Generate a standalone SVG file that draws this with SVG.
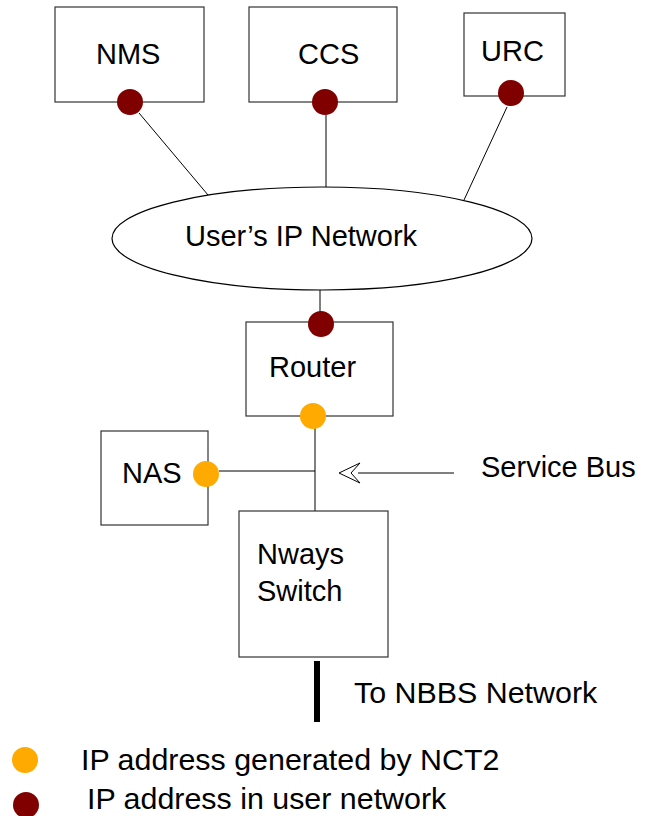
<svg xmlns="http://www.w3.org/2000/svg" width="646" height="816" viewBox="0 0 646 816">
<style>
.box{fill:#fff;stroke:#333;stroke-width:1.2}
.ln{stroke:#000;stroke-width:1;fill:none}
.t{font-family:"Liberation Sans",Arial,sans-serif;font-size:29px;fill:#000}
.tl{font-family:"Liberation Sans",Arial,sans-serif;font-size:30.4px;fill:#000}
.red{fill:#800000}
.org{fill:#FFAA00}
</style>
<rect width="646" height="816" fill="#fff"/>
<g id="connectors">
<line class="ln" x1="139" y1="113" x2="208" y2="195"/>
<line class="ln" x1="326" y1="115" x2="326" y2="187"/>
<line class="ln" x1="507" y1="107" x2="464" y2="200"/>
<line class="ln" x1="320" y1="290" x2="320" y2="312"/>
<line class="ln" x1="315" y1="428" x2="315" y2="511"/>
<line class="ln" x1="219" y1="471" x2="315" y2="471"/>
<line class="ln" x1="358" y1="473" x2="454" y2="473" stroke="#555"/>
<path d="M360,463 L339,473 L360,483 L351,473 Z" fill="#fff" stroke="#000" stroke-width="1"/>
<line x1="317" y1="661" x2="317" y2="722" stroke="#000" stroke-width="6"/>
</g>
<g id="nms">
<rect class="box" x="55" y="7" width="149" height="95"/>
<text class="t" x="96" y="64">NMS</text>
<circle class="red" cx="130" cy="102" r="13"/>
</g>
<g id="ccs">
<rect class="box" x="249" y="7" width="148" height="95"/>
<text class="t" x="298" y="64">CCS</text>
<circle class="red" cx="325" cy="102" r="13"/>
</g>
<g id="urc">
<rect class="box" x="464" y="13" width="101" height="83"/>
<text class="t" x="481" y="61">URC</text>
<circle class="red" cx="511" cy="93" r="13"/>
</g>
<g id="network">
<ellipse cx="322" cy="238.5" rx="210" ry="51.5" fill="#fff" stroke="#000" stroke-width="1.2"/>
<text class="t" x="185" y="246">User’s IP Network</text>
</g>
<g id="router">
<rect class="box" x="246" y="322" width="147" height="94"/>
<text class="t" x="269" y="377">Router</text>
<circle class="red" cx="321" cy="324" r="13"/>
<circle class="org" cx="313" cy="416" r="13"/>
</g>
<g id="nas">
<rect class="box" x="101" y="431" width="107" height="94"/>
<text class="t" x="122" y="483">NAS</text>
<circle class="org" cx="206" cy="474" r="13"/>
</g>
<g id="servicebus">
<text class="t" x="481" y="477">Service Bus</text>
</g>
<g id="nways">
<rect class="box" x="239" y="511" width="149" height="146"/>
<text class="t" x="257" y="564">Nways</text>
<text class="t" x="257" y="601">Switch</text>
</g>
<g id="nbbs">
<text class="tl" x="354" y="703">To NBBS Network</text>
</g>
<g id="legend">
<circle class="org" cx="25" cy="760" r="13"/>
<text class="tl" x="81" y="770">IP address generated by NCT2</text>
<circle class="red" cx="26" cy="805" r="13"/>
<text class="tl" x="87" y="809">IP address in user network</text>
</g>
</svg>
